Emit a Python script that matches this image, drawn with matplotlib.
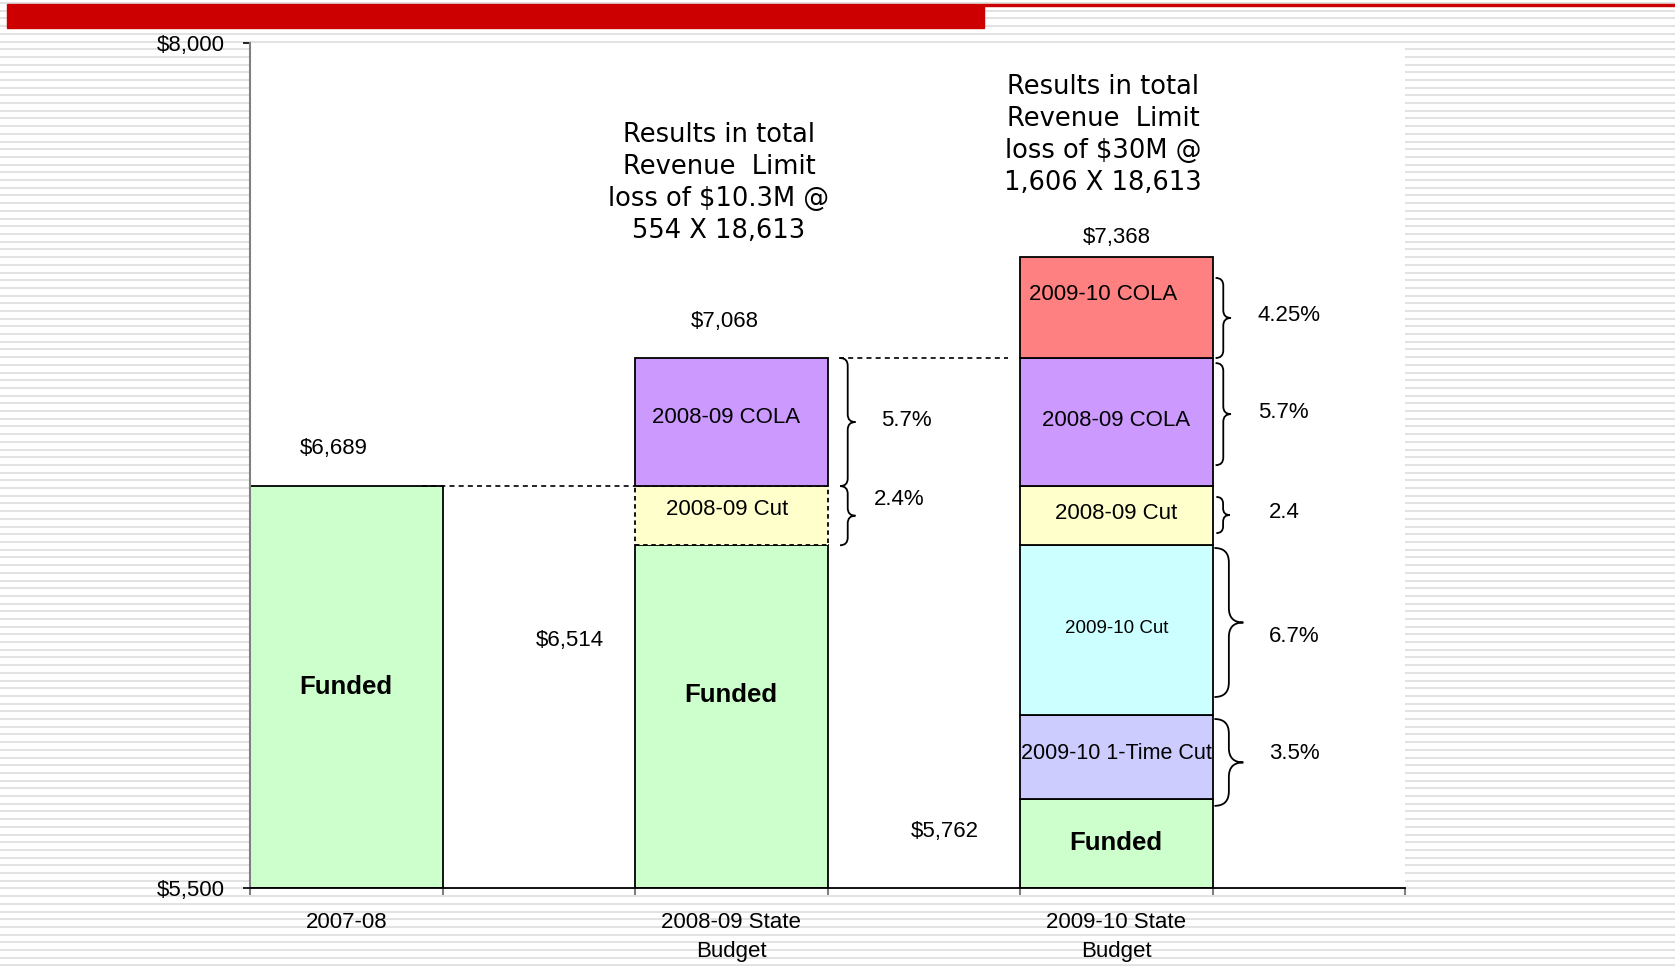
import numpy as np
import matplotlib
matplotlib.use('Agg')
import matplotlib.pyplot as plt
from matplotlib.patches import Rectangle, PathPatch
from matplotlib.path import Path

plt.rcParams['font.family'] = ['Liberation Sans', 'DejaVu Sans']

# --- data (revenue limit per ADA) ---
categories = ['2007-08', '2008-09 State\nBudget', '2009-10 State\nBudget']
base = 5500
funded = [6689, 6514, 5762]
one_time_cut_0910 = [0, 0, 250]
cut_0910 = [0, 0, 502]
cut_0809 = [0, 175, 175]
cola_0809 = [0, 379, 379]
cola_0910 = [0, 0, 300]
total_labels = ['$6,689', '$7,068', '$7,368']
funded_labels = ['$6,689', '$6,514', '$5,762']

seg_names = ['2009-10 1-Time Cut', '2009-10 Cut', '2008-09 Cut', '2008-09 COLA', '2009-10 COLA']
seg_values = [one_time_cut_0910, cut_0910, cut_0809, cola_0809, cola_0910]
seg_colors = ['#CCCCFF', '#CCFFFF', '#FFFFCC', '#CC99FF', '#FF8080']

# braces: (bar index, low, high, label)
braces = [(1, 6689, 7068, '5.7%'), (1, 6514, 6689, '2.4%'),
          (2, 7068, 7305, '4.25%'), (2, 6751, 7053, '5.7%'), (2, 6550, 6657, '2.4'),
          (2, 6065, 6506, '6.7%'), (2, 5743, 6000, '3.5%')]
notes = ['Results in total\nRevenue  Limit\nloss of $10.3M @\n554 X 18,613',
         'Results in total\nRevenue  Limit\nloss of $30M @\n1,606 X 18,613']

fig = plt.figure(figsize=(16.75, 9.67), dpi=100)

# striped slide background + red header bar
bg = fig.add_axes([0, 0, 1, 1], zorder=0)
bg.set_xlim(0, 1675)
bg.set_ylim(967, 0)
bg.axis('off')
for yy in np.arange(3, 967, 7.7):
    bg.axhline(yy, color='#e2e2e2', lw=1.4)
bg.add_patch(Rectangle((7, 4), 977, 24, color='#CC0000', zorder=5))
bg.add_patch(Rectangle((984, 4), 691, 2, color='#CC0000', zorder=5))

ax = fig.add_axes([250 / 1675, 79 / 967, 1155 / 1675, 845 / 967], zorder=1)
ax.set_facecolor('white')
x = np.arange(len(categories))
w = 0.5

ax.bar(x, np.array(funded) - base, w, bottom=base, color='#CCFFCC', edgecolor='black', lw=1.3)
bottom = np.array(funded, dtype=float)
for name, vals, col in zip(seg_names, seg_values, seg_colors):
    for i, v in enumerate(vals):
        if v == 0:
            continue
        ls = (0, (2.5, 2)) if (i == 1 and name == '2008-09 Cut') else '-'
        ax.bar(x[i], v, w, bottom=bottom[i], color=col, edgecolor='black', lw=1.3, linestyle=ls)
    bottom = bottom + np.array(vals)

ax.set_xlim(-0.25, 2.75)
ax.set_ylim(5500, 8000)

# dashed guide lines
ax.plot([0.197, 0.75], [funded[0], funded[0]], ls=(0, (3, 2.5)), color='black', lw=1.2)
ax.plot([1.28, 1.72], [bottom[1], bottom[1]], ls=(0, (3, 2.5)), color='black', lw=1.2)

# bar labels
fs = 16
ax.text(-0.032, 6799, total_labels[0], ha='center', va='center', fontsize=fs)
ax.text(0.984, 7176, total_labels[1], ha='center', va='center', fontsize=fs)
ax.text(2.002, 7426, total_labels[2], ha='center', va='center', fontsize=fs)
ax.text(0.581, 6231, funded_labels[1], ha='center', va='center', fontsize=fs)
ax.text(1.555, 5666, funded_labels[2], ha='center', va='center', fontsize=fs)
for xi, yi in zip(x, [6095, 6071, 5633]):
    ax.text(xi, yi, 'Funded', ha='center', va='center', fontsize=18.5, fontweight='bold')

seg_text = [(0.986, 6893, '2008-09 COLA', fs), (0.99, 6620, '2008-09 Cut', fs),
            (1.966, 7257, '2009-10 COLA', fs), (2.0, 6882, '2008-09 COLA', fs),
            (2.0, 6607, '2008-09 Cut', fs), (2.0, 6269, '2009-10 Cut', 13.5),
            (2.0, 5899, '2009-10 1-Time Cut', 15.5)]
for tx, ty, s, f in seg_text:
    ax.text(tx, ty, s, ha='center', va='center', fontsize=f)


def brace(x0, lo, hi, bw):
    xm = x0 + bw / 2
    r = (bw / 2) * 385 / 0.338
    mid = (lo + hi) / 2
    verts = [(x0, hi), (xm, hi), (xm, hi - r), (xm, mid + r), (xm, mid), (x0 + bw, mid),
             (xm, mid), (xm, mid - r), (xm, lo + r), (xm, lo), (x0, lo)]
    codes = [Path.MOVETO, Path.CURVE3, Path.CURVE3, Path.LINETO, Path.CURVE3, Path.CURVE3,
             Path.CURVE3, Path.CURVE3, Path.LINETO, Path.CURVE3, Path.CURVE3]
    ax.add_patch(PathPatch(Path(verts, codes), fill=False, lw=1.3, color='black'))


brace_x = [1.2825, 1.2825, 2.258, 2.258, 2.26, 2.255, 2.255]
brace_w = [0.04, 0.04, 0.04, 0.04, 0.035, 0.075, 0.075]
pct_pos = [(1.454, 6882), (1.436, 6648), (2.449, 7195), (2.433, 6908),
           (2.436, 6612), (2.462, 6243), (2.462, 5899)]
for (bi, lo, hi, lab), bx, bw, (px, py) in zip(braces, brace_x, brace_w, pct_pos):
    brace(bx, lo, hi, bw)
    ax.text(px, py, lab, ha='center', va='center', fontsize=fs)

ax.text(0.968, 7586, notes[0], ha='center', va='center', fontsize=18.5,
        family='DejaVu Sans', linespacing=1.3)
ax.text(1.966, 7729, notes[1], ha='center', va='center', fontsize=18.5,
        family='DejaVu Sans', linespacing=1.3)

# axes styling
for s in ['top', 'right']:
    ax.spines[s].set_visible(False)
ax.spines['left'].set_color('#808080')
ax.spines['left'].set_linewidth(1.5)
ax.spines['bottom'].set_color('black')
ax.spines['bottom'].set_linewidth(1.3)
ax.set_yticks([5500, 8000])
ax.set_yticklabels(['$5,500', '$8,000'], fontsize=fs)
ax.tick_params(axis='y', length=5, width=1.2, color='black', pad=13)
ax.set_xticks(x)
ax.set_xticklabels(categories, fontsize=fs, linespacing=1.5)
ax.tick_params(axis='x', which='major', length=0, pad=17)
ax.set_xticks(np.arange(-0.25, 2.8, 0.5), minor=True)
ax.tick_params(axis='x', which='minor', length=5, width=1.5, color='#808080')

fig.savefig('out.png', dpi=100)
